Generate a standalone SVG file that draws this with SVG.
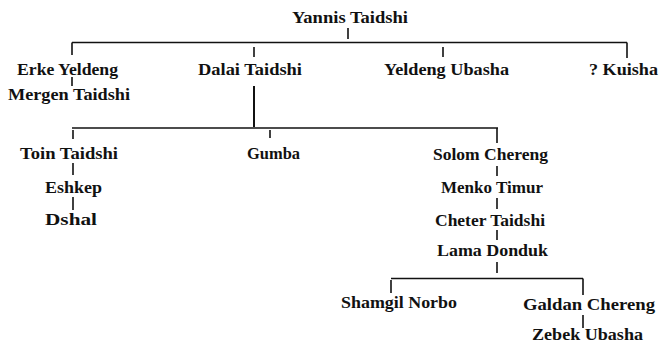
<svg xmlns="http://www.w3.org/2000/svg" width="662" height="345" viewBox="0 0 662 345">
<style>
text{font-family:"Liberation Serif","DejaVu Serif",serif;font-weight:bold;font-size:16.5px;fill:#111;}
.c line{stroke:#111;stroke-width:1.6;stroke-linecap:butt;}
</style>
<rect width="662" height="345" fill="#fff"/>
<g id="connectors" class="c">
<line x1="348" y1="28" x2="348" y2="39"/>
<line x1="72" y1="42.5" x2="627" y2="42.5"/>
<line x1="72" y1="42.5" x2="72" y2="55"/>
<line x1="254" y1="47" x2="254" y2="57"/>
<line x1="443" y1="47" x2="443" y2="57"/>
<line x1="627" y1="42.5" x2="627" y2="58"/>
<line x1="72" y1="77" x2="72" y2="86"/>
<line x1="254" y1="86" x2="254" y2="127" style="stroke-width:2"/>
<line x1="72" y1="128" x2="498" y2="128"/>
<line x1="73" y1="130" x2="73" y2="139"/>
<line x1="270" y1="130" x2="270" y2="138"/>
<line x1="497" y1="128" x2="497" y2="143"/>
<line x1="73" y1="163" x2="73" y2="175"/>
<line x1="73" y1="197" x2="73" y2="210"/>
<line x1="497" y1="166" x2="497" y2="176"/>
<line x1="497" y1="198" x2="497" y2="209"/>
<line x1="497" y1="230" x2="497" y2="240"/>
<line x1="497" y1="262" x2="497" y2="273"/>
<line x1="391" y1="278.5" x2="583" y2="278.5"/>
<line x1="391" y1="280" x2="391" y2="293"/>
<line x1="583" y1="278.5" x2="583" y2="295"/>
<line x1="583" y1="315" x2="583" y2="328"/>
</g>
<g id="yannis-taidshi"><text x="292" y="23" textLength="116" lengthAdjust="spacingAndGlyphs">Yannis Taidshi</text></g>
<g id="erke-yeldeng"><text x="17" y="74.5" textLength="101" lengthAdjust="spacingAndGlyphs">Erke Yeldeng</text></g>
<g id="dalai-taidshi"><text x="198" y="74.5" textLength="104" lengthAdjust="spacingAndGlyphs">Dalai Taidshi</text></g>
<g id="yeldeng-ubasha"><text x="384" y="74.5" textLength="125" lengthAdjust="spacingAndGlyphs">Yeldeng Ubasha</text></g>
<g id="kuisha"><text x="589" y="74.5" textLength="69" lengthAdjust="spacingAndGlyphs">? Kuisha</text></g>
<g id="mergen-taidshi"><text x="8" y="100" textLength="122" lengthAdjust="spacingAndGlyphs">Mergen Taidshi</text></g>
<g id="toin-taidshi"><text x="20" y="159" textLength="98" lengthAdjust="spacingAndGlyphs">Toin Taidshi</text></g>
<g id="gumba"><text x="247" y="159" textLength="53" lengthAdjust="spacingAndGlyphs">Gumba</text></g>
<g id="solom-chereng"><text x="433" y="160" textLength="115" lengthAdjust="spacingAndGlyphs">Solom Chereng</text></g>
<g id="eshkep"><text x="45" y="193" textLength="57" lengthAdjust="spacingAndGlyphs">Eshkep</text></g>
<g id="dshal"><text x="45" y="225" textLength="52" lengthAdjust="spacingAndGlyphs">Dshal</text></g>
<g id="menko-timur"><text x="441" y="193" textLength="102" lengthAdjust="spacingAndGlyphs">Menko Timur</text></g>
<g id="cheter-taidshi"><text x="435" y="226" textLength="110" lengthAdjust="spacingAndGlyphs">Cheter Taidshi</text></g>
<g id="lama-donduk"><text x="437" y="256" textLength="111" lengthAdjust="spacingAndGlyphs">Lama Donduk</text></g>
<g id="shamgil-norbo"><text x="341" y="308" textLength="116" lengthAdjust="spacingAndGlyphs">Shamgil Norbo</text></g>
<g id="galdan-chereng"><text x="523" y="310" textLength="132" lengthAdjust="spacingAndGlyphs">Galdan Chereng</text></g>
<g id="zebek-ubasha"><text x="532" y="340" textLength="111" lengthAdjust="spacingAndGlyphs">Zebek Ubasha</text></g>
</svg>
